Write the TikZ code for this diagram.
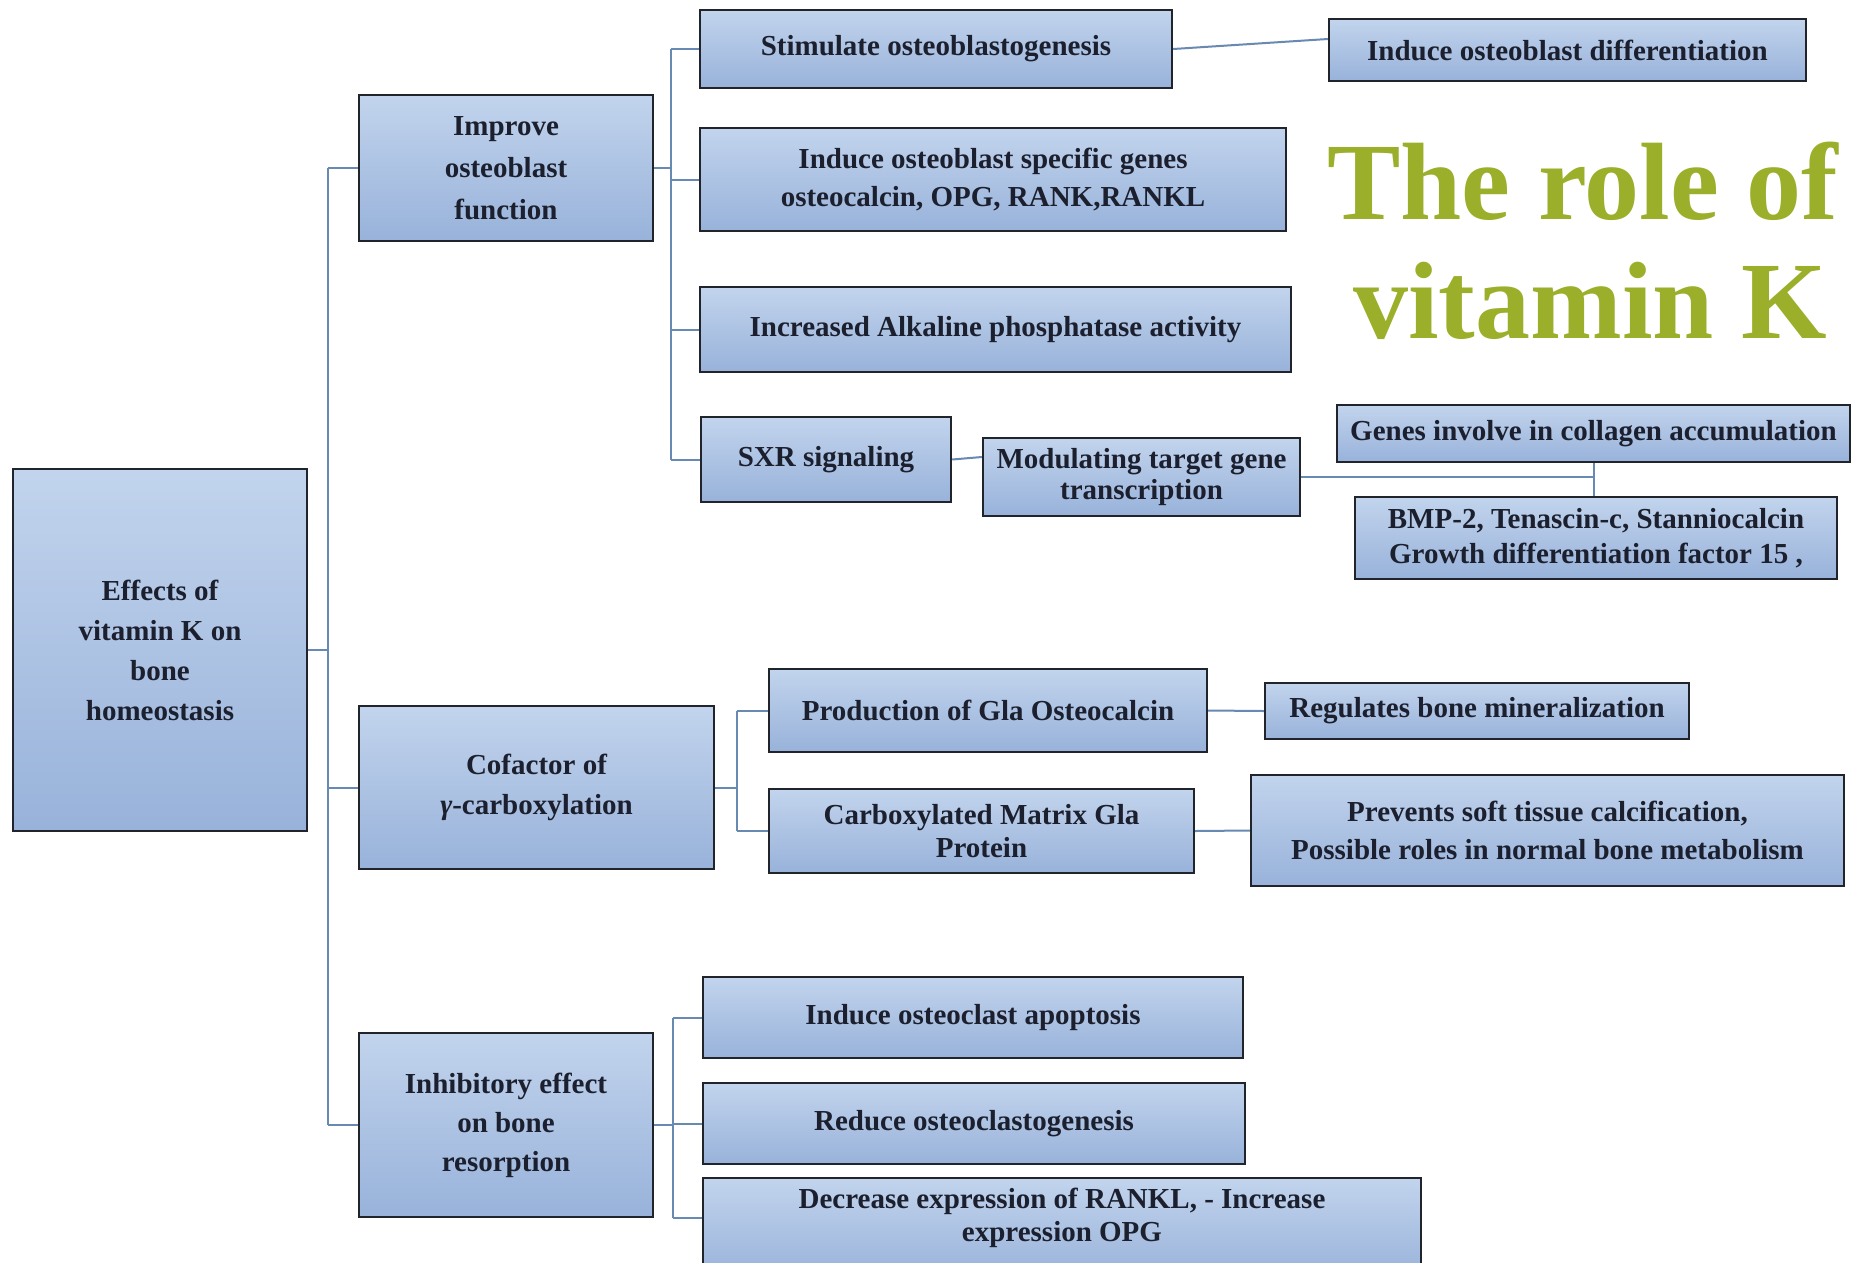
\documentclass[tikz,border=0pt]{standalone}
\usepackage{fontspec}
\setmainfont{Liberation Serif}
\definecolor{boxtop}{RGB}{194,212,237}
\definecolor{boxbot}{RGB}{152,178,218}
\definecolor{edgec}{RGB}{34,36,44}
\definecolor{linkc}{RGB}{104,138,178}
\definecolor{olivec}{RGB}{156,175,42}
\definecolor{ink}{RGB}{28,32,46}
\begin{document}
\begin{tikzpicture}[x=1pt,y=-1pt,
  box/.style={draw=edgec, line width=2.4pt, top color=boxtop, bottom color=boxbot,
    inner sep=0pt, align=center, text=ink, font=\bfseries\fontsize{29}{36}\selectfont},
  lh/.style={font=\bfseries\fontsize{29}{#1}\selectfont},
  conn/.style={draw=linkc, line width=2pt},
  titletext/.style={text=olivec, font=\bfseries\fontsize{110}{120}\selectfont, inner sep=0pt}]
\useasboundingbox (0,0) rectangle (1852,1262);
\fill[white] (0,0) rectangle (1852,1262);

% branch x positions
\coordinate (tk) at (328,0);
\coordinate (b1) at (671,0);
\coordinate (b2) at (737,0);
\coordinate (b3) at (673,0);

% nodes
\node[box, lh=40, minimum width=294pt, minimum height=362pt] (root) at (160,650) {Effects of\\vitamin K on\\bone\\homeostasis};
\node[box, lh=42, minimum width=294pt, minimum height=146pt] (improve) at (506,168) {Improve\\osteoblast\\function};
\node[box, lh=40, minimum width=355pt, minimum height=163pt] (cofactor) at (536.5,787.5) {Cofactor of\\{\itshape γ}-carboxylation};
\node[box, lh=39, minimum width=294pt, minimum height=184pt] (inhib) at (506,1125) {Inhibitory effect\\on bone\\resorption};

\node[box, minimum width=472pt, minimum height=78pt] (stim) at (936,49) {Stimulate osteoblastogenesis};
\node[box, minimum width=477pt, minimum height=62pt] (diff) at (1567.5,50) {Induce osteoblast differentiation};
\node[box, lh=38, minimum width=586pt, minimum height=103pt] (genes) at (993,179.5) {Induce osteoblast specific genes\\osteocalcin, OPG, RANK,RANKL};
\node[box, minimum width=591pt, minimum height=85pt] (alk) at (995.5,329.5) {Increased Alkaline phosphatase activity};
\node[box, minimum width=250pt, minimum height=85pt] (sxr) at (826,459.5) {SXR signaling};
\node[box, lh=31, minimum width=317pt, minimum height=78pt] (mod) at (1141.5,477) {Modulating target gene\\transcription};
\node[box, minimum width=513pt, minimum height=57pt] (coll) at (1593.5,433.5) {Genes involve in collagen accumulation};
\node[box, lh=35, minimum width=482pt, minimum height=82pt] (bmp) at (1596,538) {BMP-2, Tenascin-c, Stanniocalcin\\Growth differentiation factor 15 ,};

\node[box, minimum width=438pt, minimum height=83pt] (prod) at (988,710.5) {Production of Gla Osteocalcin};
\node[box, minimum width=424pt, minimum height=56pt] (reg) at (1477,711) {Regulates bone mineralization};
\node[box, lh=33, minimum width=425pt, minimum height=84pt] (carb) at (981.5,831) {Carboxylated Matrix Gla\\Protein};
\node[box, lh=38, minimum width=593pt, minimum height=111pt] (prev) at (1547.5,830.5) {Prevents soft tissue calcification,\\Possible roles in normal bone metabolism};

\node[box, minimum width=540pt, minimum height=81pt] (apop) at (973,1017.5) {Induce osteoclast apoptosis};
\node[box, minimum width=542pt, minimum height=81pt] (reduce) at (974,1123.5) {Reduce osteoclastogenesis};
\node[box, minimum width=718pt, minimum height=102pt] (decr) at (1062,1229) {};
\node[align=center, text=ink, inner sep=0pt, lh=33] (decrtxt) at (1062,1218) {Decrease expression of RANKL, - Increase\\expression OPG};

% connectors
\draw[conn] (root.east) -- (root.east -| tk);
\draw[conn] (tk |- improve.west) -- (tk |- inhib.west);
\draw[conn] (tk |- improve.west) -- (improve.west);
\draw[conn] (tk |- cofactor.west) -- (cofactor.west);
\draw[conn] (tk |- inhib.west) -- (inhib.west);

\draw[conn] (improve.east) -- (improve.east -| b1);
\draw[conn] (b1 |- stim.west) -- (b1 |- sxr.west);
\draw[conn] (b1 |- stim.west) -- (stim.west);
\draw[conn] (b1 |- genes.west) -- (genes.west);
\draw[conn] (b1 |- alk.west) -- (alk.west);
\draw[conn] (b1 |- sxr.west) -- (sxr.west);

\draw[conn] (stim.east) -- ([yshift=11pt]diff.west);
\draw[conn] (sxr.east) -- ([yshift=20pt]mod.west);
\draw[conn] (mod.east) -- (mod.east -| coll.south);
\draw[conn] (coll.south) -- (coll.south |- bmp.north);

\draw[conn] (cofactor.east) -- (cofactor.east -| b2);
\draw[conn] (b2 |- prod.west) -- (b2 |- carb.west);
\draw[conn] (b2 |- prod.west) -- (prod.west);
\draw[conn] (b2 |- carb.west) -- (carb.west);
\draw[conn] (prod.east) -- (reg.west);
\draw[conn] (carb.east) -- (prev.west);

\draw[conn] (inhib.east) -- (inhib.east -| b3);
\draw[conn] (b3 |- apop.west) -- (b3 |- decrtxt);
\draw[conn] (b3 |- apop.west) -- (apop.west);
\draw[conn] (b3 |- reduce.west) -- (reduce.west);
\draw[conn] (b3 |- decrtxt) -- (decrtxt -| decr.west);

% title
\node[titletext, anchor=base west] (t1) at (1327,219) {The role of};
\node[titletext, anchor=base] (t2) at (1590,338) {vitamin K};
\end{tikzpicture}
\end{document}
